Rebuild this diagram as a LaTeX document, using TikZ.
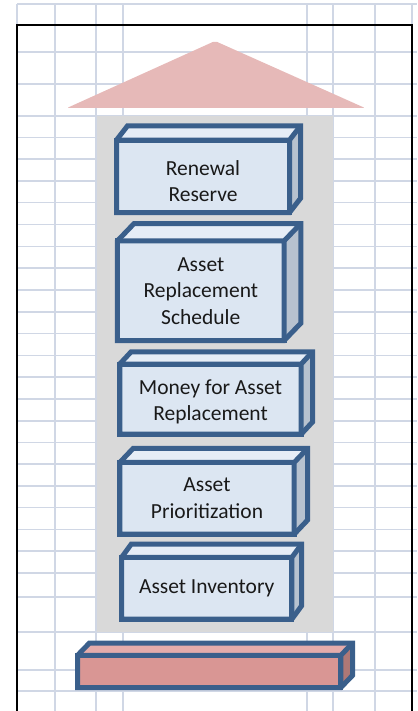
\documentclass[tikz,border=0pt]{standalone}
\usepackage{fontspec}
\setmainfont{Carlito}
\usetikzlibrary{calc}

\definecolor{gridline}{HTML}{D0D7E5}
\definecolor{panelgrey}{HTML}{D9D9D9}
\definecolor{boxedge}{HTML}{3A5F8B}
\definecolor{boxfront}{HTML}{DCE6F2}
\definecolor{boxtop}{HTML}{E6EDF6}
\definecolor{boxside}{HTML}{B7C2CF}
\definecolor{roofpink}{HTML}{E6B9B8}
\definecolor{basefront}{HTML}{D99694}
\definecolor{basetop}{HTML}{E4ACAB}
\definecolor{baseside}{HTML}{AF7876}

\begin{document}
\begin{tikzpicture}[
  x=1pt, y=-1pt,
  font=\fontsize{21.5}{26.5}\selectfont,
  grid/.style={gridline, line width=1.6pt},
  edge/.style={draw=boxedge, line width=5pt, line join=miter},
  block/.style={edge, fill=boxfront, align=center, outer sep=0pt, inner sep=0pt, text=black!90}
]
\useasboundingbox (0,0) rectangle (417,711);

% sheet grid behind everything
\foreach \gx in {17,55,96,123,307,333,375,412}
  \draw[grid] (\gx,4) -- (\gx,711);
\foreach \gy in {4,52,84,116,137.7,159.3,181,202.7,224.3,246.3,268,290,311.7,333.3,355.3,376.7,398.7,420.7,442.3,464,485.7,507.5,529.3,551,573,596.7,631.7,670,690.7}
  \draw[grid] (17,\gy) -- (417,\gy);
\draw[black, line width=2pt] (17,711) -- (17,25) -- (411.7,25) -- (411.7,711);

% column and roof
\fill[panelgrey] (96.5,116) rectangle (333,632);
\fill[roofpink, rounded corners=2pt] (215,41) -- (365,108) -- (67,108) -- cycle;

% front faces
\node[block, minimum width=173pt, minimum height=72.5pt, text height=51pt] (renewal) at (203,176.3) {Renewal\\Reserve};
\node[block, minimum width=166.7pt, minimum height=99.7pt] (schedule) at (200.8,290.7) {Asset\\Replacement\\Schedule};
\node[block, minimum width=181.4pt, minimum height=70.2pt, text height=47pt] (money) at (210.5,399.1) {Money for Asset\\Replacement};
\node[block, minimum width=174.4pt, minimum height=71.7pt] (prio) at (207,498.3) {Asset\\Prioritization};
\node[block, minimum width=170.3pt, minimum height=61.7pt] (inventory) at (206.7,588.3) {Asset Inventory};
\node[block, fill=basefront, minimum width=263.3pt, minimum height=32.2pt] (plinth) at (209.2,671.4) {};

% top and side faces of each block
\foreach \n/\dx/\dy/\tf/\sf in {renewal/11/14.2/boxtop/boxside, schedule/16.6/17.3/boxtop/boxside,
    money/11.3/12.2/boxtop/boxside, prio/13.3/14/boxtop/boxside, inventory/9.7/13.3/boxtop/boxside,
    plinth/11.7/12.1/basetop/baseside} {
  \fill[\tf] (\n.north west) -- ++(\dx,-\dy) -- ($(\n.north east)+(\dx,-\dy)$) -- (\n.north east) -- cycle;
  \fill[\sf] (\n.north east) -- ++(\dx,-\dy) -- ($(\n.south east)+(\dx,-\dy)$) -- (\n.south east) -- cycle;
  \draw[edge] (\n.south west) -- (\n.north west) -- ++(\dx,-\dy) -- ($(\n.north east)+(\dx,-\dy)$)
    -- ($(\n.south east)+(\dx,-\dy)$) -- (\n.south east) -- cycle;
  \draw[edge] (\n.north west) -- (\n.north east) -- (\n.south east) (\n.north east) -- ++(\dx,-\dy);
}
\end{tikzpicture}
\end{document}
